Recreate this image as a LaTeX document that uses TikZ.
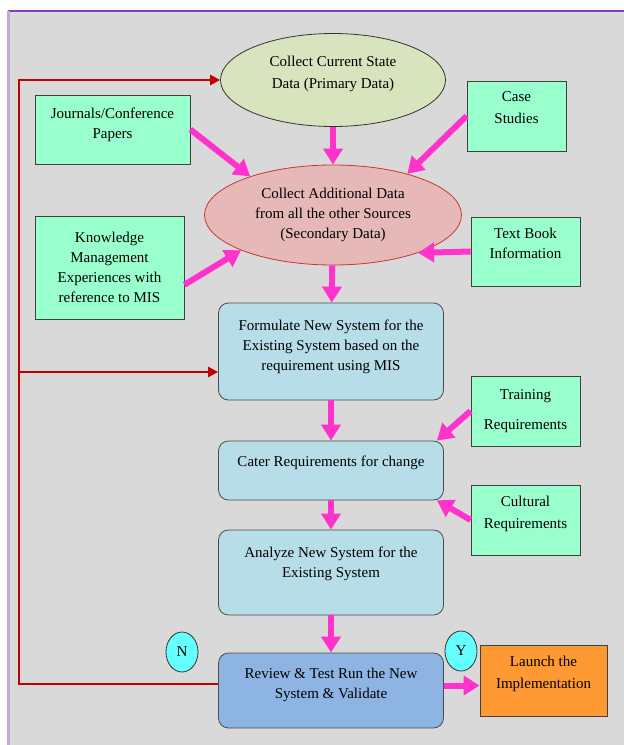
\documentclass[tikz,border=0pt]{standalone}
\usepackage{fontspec}
\setmainfont{Liberation Serif}
\usepackage{xcolor}
\usetikzlibrary{shapes.geometric, arrows.meta, positioning}
\definecolor{panelgray}{HTML}{D9D9D9}
\definecolor{framepurple}{HTML}{7F3FBF}
\definecolor{framelilac}{HTML}{C3A6DA}
\definecolor{sourcegreen}{HTML}{99FFCC}
\definecolor{stageblue}{HTML}{B7DEE8}
\definecolor{reviewblue}{HTML}{8EB4E3}
\definecolor{primaryolive}{HTML}{D7E4BD}
\definecolor{secondaryrose}{HTML}{E6B9B8}
\definecolor{launchorange}{HTML}{FF9933}
\definecolor{answercyan}{HTML}{66FFFF}
\definecolor{feedpink}{HTML}{FF33CC}
\definecolor{backred}{HTML}{C00000}

\begin{document}
\begin{tikzpicture}[x=1pt, y=-1pt,
        font=\fontsize{15}{20}\selectfont,
        source/.style={rectangle, draw=black!75, line width=0.8pt, fill=sourcegreen, align=center, inner sep=2pt},
        stage/.style={rectangle, draw=black!70, line width=0.8pt, rounded corners=10pt, fill=stageblue, align=center, minimum width=225pt},
        data/.style={ellipse, line width=0.8pt, align=center, inner sep=0pt},
        answer/.style={ellipse, draw=black!80, line width=0.8pt, fill=answercyan, minimum width=32pt, minimum height=40pt, inner sep=0pt},
        feed/.style={-{Triangle[width=19pt,length=16pt]}, line width=6pt, draw=feedpink},
        backline/.style={-{Triangle[width=10pt,length=10pt]}, line width=2.5pt, draw=backred}
    ]
        \useasboundingbox (0,0) rectangle (624,745);
        \fill[panelgray] (8,11) rectangle (624,745);
        \draw[framepurple, line width=1.5pt] (8,11) -- (624,11);
        \draw[framelilac, line width=3pt] (8,11) -- (8,745);

        \node[data, draw=black!80, fill=primaryolive, minimum width=225pt, minimum height=93pt] (current) at (333,80) {Collect Current State\\[2pt]Data (Primary Data)\\[-5pt]};
        \node[data, draw=backred!80, fill=secondaryrose, minimum width=257pt, minimum height=100pt] (additional) at (333,215) {Collect Additional Data\\from all the other Sources\\(Secondary Data)};

        \node[source, minimum width=155pt, minimum height=69pt] (journals) at (112.5,129.5) {Journals/Conference\\Papers\\[-7pt]};
        \node[source, minimum width=99pt, minimum height=70pt] (cases) at (516.5,116) {Case\\[2pt]Studies\\[-4pt]};
        \node[source, minimum width=149pt, minimum height=103pt] (knowledge) at (109.5,267.5) {Knowledge\\Management\\Experiences with\\reference to MIS};
        \node[source, minimum width=109pt, minimum height=69pt] (textbook) at (525.5,251.5) {Text Book\\Information\\[-4pt]};

        \node[stage, minimum height=97pt] (formulate) at (331,351.5) {Formulate New System for the\\Existing System based on the\\requirement using MIS\\[-7pt]};
        \node[stage, minimum height=59pt] (cater) at (331,470.5) {Cater Requirements for change\\[-1pt]};
        \node[stage, minimum height=85pt] (analyze) at (331,572.5) {Analyze New System for the\\Existing System\\[1pt]};
        \node[stage, fill=reviewblue, minimum height=75pt] (review) at (331,690.5) {Review \& Test Run the New\\System \& Validate\\[-6pt]};

        \node[source, minimum width=109pt, minimum height=70pt] (training) at (525.5,411) {Training\\[10pt]Requirements};
        \node[source, minimum width=109pt, minimum height=70pt] (cultural) at (525.5,520) {Cultural\\[2pt]Requirements\\[-4pt]};
        \node[source, fill=launchorange, minimum width=127pt, minimum height=71pt] (launch) at (543.5,680.5) {Launch the\\[2pt]Implementation\\[-4pt]};

        \node[answer] (no) at (182,652) {N};
        \node[answer] (yes) at (461,651) {Y};

        \draw[feed] (current) -- (additional);
        \draw[feed] (journals.east) -- (additional.155);
        \draw[feed] (cases.west) -- (additional.29);
        \draw[feed] (knowledge.-13) -- (additional.201);
        \draw[feed] (textbook.west) -- (additional.336);
        \draw[feed] (additional) -- (formulate);
        \draw[feed] (formulate) -- (cater);
        \draw[feed] (training.west) -- ([xshift=-7pt]cater.north east);
        \draw[feed] (cultural.west) -- ([xshift=-7pt]cater.south east);
        \draw[feed] (cater) -- (analyze);
        \draw[feed] (analyze) -- (review);
        \draw[feed] ([yshift=5pt]review.east) -- ([yshift=5pt]review.east -| launch.west);

        \coordinate (corner) at (19,684);
        \coordinate (branch) at (19,372);
        \draw[backline] (review.west |- corner) -- (corner) -- (corner |- current.west) -- (current.west);
        \draw[backline] (branch) -- (branch -| formulate.west);
    \end{tikzpicture}
\end{document}
